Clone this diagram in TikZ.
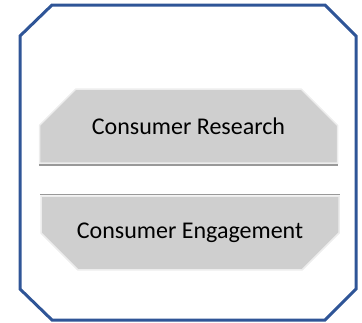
\documentclass[tikz,border=0pt]{standalone}
\usepackage{fontspec}
\setmainfont{Carlito}
\usetikzlibrary{shapes.misc}

\definecolor{framblue}{RGB}{47,85,151}

\begin{document}
\begin{tikzpicture}[x=1pt, y=-1pt,
    tab/.style={chamfered rectangle, fill=black!19, draw=black!7, line width=1.5pt,
      minimum width=298pt, font=\fontsize{24}{28}\selectfont, inner sep=0pt}]
    \useasboundingbox (0,0) rectangle (362,322);
    % outer frame with cut corners
    \draw[framblue, line width=3pt] (52,5) -- (325,5) -- (356,36) -- (356,289) -- (325,320)
      -- (52,320) -- (20,289) -- (20,36) -- cycle;
    % upper tab, cut at the top
    \node[tab, minimum height=74pt, chamfered rectangle xsep=28pt, chamfered rectangle ysep=28pt,
      chamfered rectangle corners={north west,north east}] (research) at (188.5,126) {Consumer Research};
    \draw[black!40, line width=1.5pt] ([yshift=-1pt]research.south west) -- ([yshift=-1pt]research.south east);
    % lower tab, cut at the bottom
    \node[tab, minimum height=68pt, chamfered rectangle xsep=30pt, chamfered rectangle ysep=27pt,
      chamfered rectangle corners={south west,south east}] (engage) at (190,233) {Consumer Engagement};
    \draw[black!40, line width=1.5pt] ([yshift=1pt]engage.north west) -- ([yshift=1pt]engage.north east);
  \end{tikzpicture}
\end{document}
